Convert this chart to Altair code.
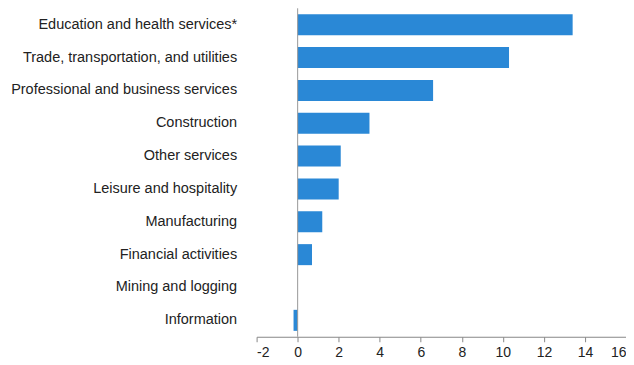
import altair as alt
import pandas as pd

industries = [
    "Education and health services*",
    "Trade, transportation, and utilities",
    "Professional and business services",
    "Construction",
    "Other services",
    "Leisure and hospitality",
    "Manufacturing",
    "Financial activities",
    "Mining and logging",
    "Information",
]
values = [13.4, 10.3, 6.6, 3.5, 2.1, 2.0, 1.2, 0.7, 0.0, -0.2]

df = pd.DataFrame({"industry": industries, "value": values})

FONT = "Liberation Sans"

x_scale = alt.Scale(domain=[-2, 16], nice=False, zero=False)
y_scale = alt.Scale(domain=industries, paddingInner=0.36, paddingOuter=0.18)

x_axis = alt.Axis(values=list(range(-2, 17, 2)), grid=False, domainColor="#888",
                  tickColor="#888", tickSize=5, labelFontSize=14, labelColor="#222",
                  labelFont=FONT, labelPadding=4, labelExpr="toString(datum.value)")

bars = alt.Chart(df).mark_bar(color="#2a88d6").encode(
    x=alt.X("value:Q", scale=x_scale, title=None, axis=x_axis),
    y=alt.Y("industry:N", scale=y_scale, sort=industries, title=None,
            axis=alt.Axis(domain=False, ticks=False, grid=False, labelFontSize=14.5,
                          labelColor="#222", labelFont=FONT, labelPadding=20, labelLimit=300)),
)

zero_rule = alt.Chart(pd.DataFrame({"x": [0]})).mark_rule(color="#999", strokeWidth=1).encode(
    x=alt.X("x:Q", scale=x_scale, title=None, axis=x_axis)
)

chart = (bars + zero_rule).properties(
    width=370,
    height=329,
    background="white",
    autosize=alt.AutoSizeParams(type="none"),
    padding={"left": 249, "top": 0, "right": 0, "bottom": 30},
).configure_view(strokeOpacity=0).configure_axis(grid=False)

chart.save("out.html", embed_options={"renderer": "svg", "actions": False})
